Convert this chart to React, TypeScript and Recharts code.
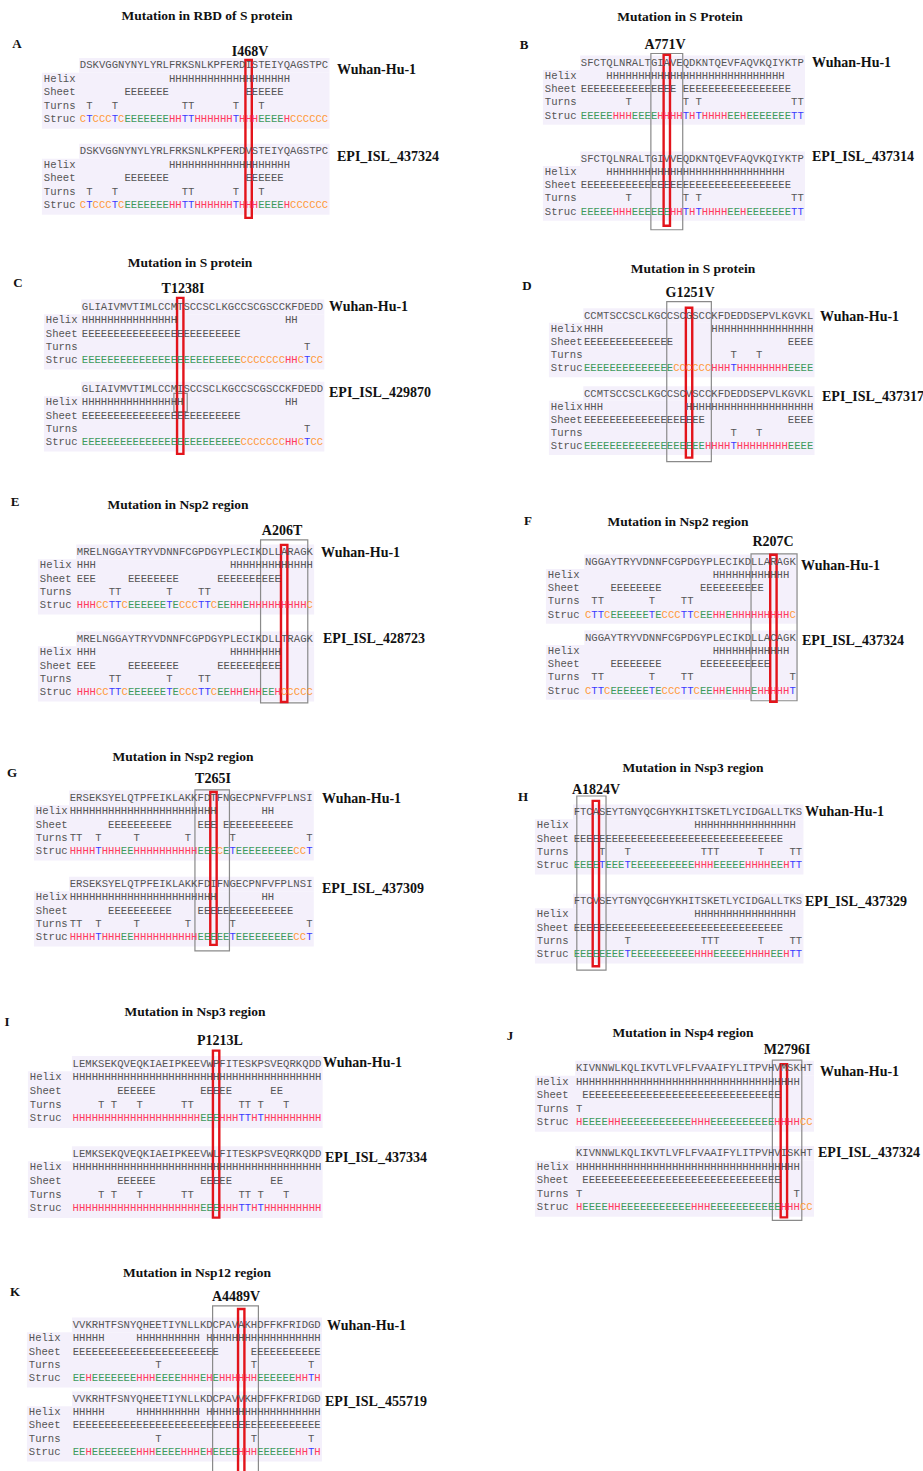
import React from 'react'
import { ScatterChart, Scatter, XAxis, YAxis, ReferenceArea } from 'recharts'

type Run = [number, string]
const rle = (runs: Run[]) => runs.map(([n, c]) => c.repeat(n)).join('')

const ROW_LABELS = ['Helix', 'Sheet', 'Turns', 'Struc']
const STRAIN_WT = 'Wuhan-Hu-1'

// A — RBD of S protein
const A_SEQ = ['DSKVGGNYNYLYRLFRKSNLKPFERDISTEIYQAGSTPC', 'DSKVGGNYNYLYRLFRKSNLKPFERDVSTEIYQAGSTPC']
const A_HELIX: Run[] = [[14, ' '], [19, 'H']]
const A_SHEET: Run[] = [[7, ' '], [7, 'E'], [12, ' '], [6, 'E']]
const A_TURNS: Run[] = [[1, ' '], [1, 'T'], [3, ' '], [1, 'T'], [10, ' '], [2, 'T'], [6, ' '], [1, 'T'], [3, ' '], [1, 'T']]
const A_STRUC: Run[] = [[1, 'C'], [1, 'T'], [3, 'C'], [1, 'T'], [1, 'C'], [7, 'E'], [2, 'H'], [2, 'T'], [6, 'H'], [1, 'T'], [3, 'H'], [4, 'E'], [1, 'H'], [6, 'C']]

// B — S protein A771V
const B_SEQ = ['SFCTQLNRALTGIAVEQDKNTQEVFAQVKQIYKTP', 'SFCTQLNRALTGIVVEQDKNTQEVFAQVKQIYKTP']
const B_HELIX: Run[] = [[4, ' '], [28, 'H']]
const B_SHEET_WT: Run[] = [[15, 'E'], [1, ' '], [17, 'E']]
const B_SHEET_MUT: Run[] = [[33, 'E']]
const B_TURNS: Run[] = [[7, ' '], [1, 'T'], [8, ' '], [1, 'T'], [1, ' '], [1, 'T'], [14, ' '], [2, 'T']]
const B_STRUC_WT: Run[] = [[5, 'E'], [3, 'H'], [4, 'E'], [4, 'H'], [1, 'T'], [1, 'H'], [1, 'T'], [4, 'H'], [2, 'E'], [1, 'H'], [7, 'E'], [2, 'T']]
const B_STRUC_MUT: Run[] = [[5, 'E'], [3, 'H'], [6, 'E'], [2, 'H'], [1, 'T'], [1, 'H'], [1, 'T'], [4, 'H'], [2, 'E'], [1, 'H'], [7, 'E'], [2, 'T']]

// C — S protein T1238I
const C_SEQ = ['GLIAIVMVTIMLCCMTSCCSCLKGCCSCGSCCKFDEDD', 'GLIAIVMVTIMLCCMISCCSCLKGCCSCGSCCKFDEDD']
const C_HELIX_WT: Run[] = [[15, 'H'], [17, ' '], [2, 'H']]
const C_HELIX_MUT: Run[] = [[16, 'H'], [16, ' '], [2, 'H']]
const C_SHEET: Run[] = [[25, 'E']]
const C_TURNS: Run[] = [[35, ' '], [1, 'T']]
const C_STRUC: Run[] = [[25, 'E'], [7, 'C'], [2, 'H'], [1, 'C'], [1, 'T'], [2, 'C']]

// D — S protein G1251V
const D_SEQ = ['CCMTSCCSCLKGCCSCGSCCKFDEDDSEPVLKGVKL', 'CCMTSCCSCLKGCCSCVSCCKFDEDDSEPVLKGVKL']
const D_HELIX_WT: Run[] = [[3, 'H'], [17, ' '], [16, 'H']]
const D_HELIX_MUT: Run[] = [[3, 'H'], [13, ' '], [20, 'H']]
const D_SHEET_WT: Run[] = [[14, 'E'], [18, ' '], [4, 'E']]
const D_SHEET_MUT: Run[] = [[19, 'E'], [13, ' '], [4, 'E']]
const D_TURNS: Run[] = [[23, ' '], [1, 'T'], [3, ' '], [1, 'T']]
const D_STRUC_WT: Run[] = [[14, 'E'], [6, 'C'], [3, 'H'], [1, 'T'], [8, 'H'], [4, 'E']]
const D_STRUC_MUT: Run[] = [[19, 'E'], [4, 'H'], [1, 'T'], [8, 'H'], [4, 'E']]

// E — Nsp2 A206T
const E_SEQ = ['MRELNGGAYTRYVDNNFCGPDGYPLECIKDLLARAGK', 'MRELNGGAYTRYVDNNFCGPDGYPLECIKDLLTRAGK']
const E_HELIX_WT: Run[] = [[3, 'H'], [21, ' '], [13, 'H']]
const E_HELIX_MUT: Run[] = [[3, 'H'], [21, ' '], [8, 'H']]
const E_SHEET: Run[] = [[3, 'E'], [5, ' '], [8, 'E'], [6, ' '], [10, 'E']]
const E_TURNS: Run[] = [[5, ' '], [2, 'T'], [7, ' '], [1, 'T'], [4, ' '], [2, 'T']]
const E_STRUC_WT: Run[] = [[3, 'H'], [2, 'C'], [2, 'T'], [1, 'C'], [6, 'E'], [1, 'T'], [1, 'E'], [3, 'C'], [2, 'T'], [1, 'C'], [2, 'E'], [2, 'H'], [1, 'E'], [9, 'H'], [1, 'C']]
const E_STRUC_MUT: Run[] = [[3, 'H'], [2, 'C'], [2, 'T'], [1, 'C'], [6, 'E'], [1, 'T'], [1, 'E'], [3, 'C'], [2, 'T'], [1, 'C'], [2, 'E'], [2, 'H'], [1, 'E'], [2, 'H'], [2, 'E'], [1, 'H'], [5, 'C']]

// F — Nsp2 R207C
const F_SEQ = ['NGGAYTRYVDNNFCGPDGYPLECIKDLLARAGK', 'NGGAYTRYVDNNFCGPDGYPLECIKDLLACAGK']
const F_HELIX: Run[] = [[20, ' '], [12, 'H']]
const F_SHEET_WT: Run[] = [[4, ' '], [8, 'E'], [6, ' '], [10, 'E']]
const F_SHEET_MUT: Run[] = [[4, ' '], [8, 'E'], [6, ' '], [11, 'E']]
const F_TURNS_WT: Run[] = [[1, ' '], [2, 'T'], [7, ' '], [1, 'T'], [4, ' '], [2, 'T']]
const F_TURNS_MUT: Run[] = [[1, ' '], [2, 'T'], [7, ' '], [1, 'T'], [4, ' '], [2, 'T'], [15, ' '], [1, 'T']]
const F_STRUC_WT: Run[] = [[1, 'C'], [2, 'T'], [1, 'C'], [6, 'E'], [1, 'T'], [1, 'E'], [3, 'C'], [2, 'T'], [1, 'C'], [2, 'E'], [2, 'H'], [1, 'E'], [9, 'H'], [1, 'C']]
const F_STRUC_MUT: Run[] = [[1, 'C'], [2, 'T'], [1, 'C'], [6, 'E'], [1, 'T'], [1, 'E'], [3, 'C'], [2, 'T'], [1, 'C'], [2, 'E'], [2, 'H'], [1, 'E'], [3, 'H'], [1, 'E'], [5, 'H'], [1, 'T']]

// G — Nsp2 T265I
const G_SEQ = ['ERSEKSYELQTPFEIKLAKKFDTFNGECPNFVFPLNSI', 'ERSEKSYELQTPFEIKLAKKFDIFNGECPNFVFPLNSI']
const G_HELIX: Run[] = [[23, 'H'], [7, ' '], [2, 'H']]
const G_SHEET_WT: Run[] = [[6, ' '], [10, 'E'], [4, ' '], [3, 'E'], [1, ' '], [11, 'E']]
const G_SHEET_MUT: Run[] = [[6, ' '], [10, 'E'], [4, ' '], [15, 'E']]
const G_TURNS: Run[] = [[2, 'T'], [2, ' '], [1, 'T'], [5, ' '], [1, 'T'], [7, ' '], [1, 'T'], [6, ' '], [1, 'T'], [11, ' '], [1, 'T']]
const G_STRUC_WT: Run[] = [[4, 'H'], [1, 'T'], [3, 'H'], [2, 'E'], [10, 'H'], [3, 'E'], [1, 'C'], [1, 'E'], [1, 'T'], [9, 'E'], [2, 'C'], [1, 'T']]
const G_STRUC_MUT: Run[] = [[4, 'H'], [1, 'T'], [3, 'H'], [2, 'E'], [10, 'H'], [5, 'E'], [1, 'T'], [9, 'E'], [2, 'C'], [1, 'T']]

// H — Nsp3 A1824V
const H_SEQ = ['FTCASEYTGNYQCGHYKHITSKETLYCIDGALLTKS', 'FTCVSEYTGNYQCGHYKHITSKETLYCIDGALLTKS']
const H_HELIX: Run[] = [[19, ' '], [16, 'H']]
const H_SHEET: Run[] = [[33, 'E']]
const H_TURNS_WT: Run[] = [[4, ' '], [1, 'T'], [3, ' '], [1, 'T'], [11, ' '], [3, 'T'], [6, ' '], [1, 'T'], [4, ' '], [2, 'T']]
const H_TURNS_MUT: Run[] = [[8, ' '], [1, 'T'], [11, ' '], [3, 'T'], [6, ' '], [1, 'T'], [4, ' '], [2, 'T']]
const H_STRUC_WT: Run[] = [[4, 'E'], [1, 'T'], [3, 'E'], [1, 'T'], [10, 'E'], [3, 'H'], [5, 'E'], [4, 'H'], [2, 'E'], [1, 'H'], [2, 'T']]
const H_STRUC_MUT: Run[] = [[8, 'E'], [1, 'T'], [10, 'E'], [3, 'H'], [5, 'E'], [4, 'H'], [2, 'E'], [1, 'H'], [2, 'T']]

// I — Nsp3 P1213L
const I_SEQ = ['LEMKSEKQVEQKIAEIPKEEVWPFITESKPSVEQRKQDD', 'LEMKSEKQVEQKIAEIPKEEVWLFITESKPSVEQRKQDD']
const I_HELIX: Run[] = [[39, 'H']]
const I_SHEET: Run[] = [[7, ' '], [6, 'E'], [7, ' '], [5, 'E'], [6, ' '], [2, 'E']]
const I_TURNS: Run[] = [[4, ' '], [1, 'T'], [1, ' '], [1, 'T'], [3, ' '], [1, 'T'], [6, ' '], [2, 'T'], [7, ' '], [2, 'T'], [1, ' '], [1, 'T'], [3, ' '], [1, 'T']]
const I_STRUC: Run[] = [[20, 'H'], [3, 'E'], [3, 'H'], [2, 'T'], [1, 'H'], [1, 'T'], [9, 'H']]

// J — Nsp4 M2796I
const J_SEQ = ['KIVNNWLKQLIKVTLVFLFVAAIFYLITPVHVMSKHT', 'KIVNNWLKQLIKVTLVFLFVAAIFYLITPVHVISKHT']
const J_HELIX: Run[] = [[35, 'H']]
const J_SHEET: Run[] = [[1, ' '], [31, 'E']]
const J_TURNS_WT: Run[] = [[1, 'T']]
const J_TURNS_MUT: Run[] = [[1, 'T'], [33, ' '], [1, 'T']]
const J_STRUC_WT: Run[] = [[1, 'H'], [4, 'E'], [2, 'H'], [11, 'E'], [3, 'H'], [10, 'E'], [4, 'H'], [2, 'C']]
const J_STRUC_MUT: Run[] = [[1, 'H'], [4, 'E'], [2, 'H'], [11, 'E'], [3, 'H'], [11, 'E'], [3, 'H'], [2, 'C']]

// K — Nsp12 A4489V
const K_SEQ = ['VVKRHTFSNYQHEETIYNLLKDCPAVAKHDFFKFRIDGD', 'VVKRHTFSNYQHEETIYNLLKDCPAVVKHDFFKFRIDGD']
const K_HELIX: Run[] = [[5, 'H'], [5, ' '], [10, 'H'], [1, ' '], [18, 'H']]
const K_SHEET_WT: Run[] = [[23, 'E'], [5, ' '], [11, 'E']]
const K_SHEET_MUT: Run[] = [[39, 'E']]
const K_TURNS: Run[] = [[13, ' '], [1, 'T'], [14, ' '], [1, 'T'], [8, ' '], [1, 'T']]
const K_STRUC_WT: Run[] = [[2, 'E'], [1, 'H'], [7, 'E'], [3, 'H'], [4, 'E'], [3, 'H'], [1, 'E'], [1, 'H'], [1, 'E'], [6, 'H'], [6, 'E'], [2, 'H'], [1, 'T'], [1, 'H']]
const K_STRUC_MUT: Run[] = [[2, 'E'], [1, 'H'], [7, 'E'], [3, 'H'], [4, 'E'], [3, 'H'], [1, 'E'], [1, 'H'], [4, 'E'], [3, 'H'], [6, 'E'], [2, 'H'], [1, 'T'], [1, 'H']]

interface PanelData {
  id: string
  title: string
  mutation: string
  strain: string
  mutCol: number
  wt: string[]
  mut: string[]
}

const block = (seq: string, rows: Run[][]) => [seq, ...rows.map(rle)]

const PANELS: PanelData[] = [
  { id: 'A', title: 'Mutation in RBD of S protein', mutation: 'I468V', strain: 'EPI_ISL_437324', mutCol: 26,
    wt: block(A_SEQ[0], [A_HELIX, A_SHEET, A_TURNS, A_STRUC]), mut: block(A_SEQ[1], [A_HELIX, A_SHEET, A_TURNS, A_STRUC]) },
  { id: 'B', title: 'Mutation in S Protein', mutation: 'A771V', strain: 'EPI_ISL_437314', mutCol: 13,
    wt: block(B_SEQ[0], [B_HELIX, B_SHEET_WT, B_TURNS, B_STRUC_WT]), mut: block(B_SEQ[1], [B_HELIX, B_SHEET_MUT, B_TURNS, B_STRUC_MUT]) },
  { id: 'C', title: 'Mutation in S protein', mutation: 'T1238I', strain: 'EPI_ISL_429870', mutCol: 15,
    wt: block(C_SEQ[0], [C_HELIX_WT, C_SHEET, C_TURNS, C_STRUC]), mut: block(C_SEQ[1], [C_HELIX_MUT, C_SHEET, C_TURNS, C_STRUC]) },
  { id: 'D', title: 'Mutation in S protein', mutation: 'G1251V', strain: 'EPI_ISL_437317', mutCol: 16,
    wt: block(D_SEQ[0], [D_HELIX_WT, D_SHEET_WT, D_TURNS, D_STRUC_WT]), mut: block(D_SEQ[1], [D_HELIX_MUT, D_SHEET_MUT, D_TURNS, D_STRUC_MUT]) },
  { id: 'E', title: 'Mutation in Nsp2 region', mutation: 'A206T', strain: 'EPI_ISL_428723', mutCol: 32,
    wt: block(E_SEQ[0], [E_HELIX_WT, E_SHEET, E_TURNS, E_STRUC_WT]), mut: block(E_SEQ[1], [E_HELIX_MUT, E_SHEET, E_TURNS, E_STRUC_MUT]) },
  { id: 'F', title: 'Mutation in Nsp2 region', mutation: 'R207C', strain: 'EPI_ISL_437324', mutCol: 29,
    wt: block(F_SEQ[0], [F_HELIX, F_SHEET_WT, F_TURNS_WT, F_STRUC_WT]), mut: block(F_SEQ[1], [F_HELIX, F_SHEET_MUT, F_TURNS_MUT, F_STRUC_MUT]) },
  { id: 'G', title: 'Mutation in Nsp2 region', mutation: 'T265I', strain: 'EPI_ISL_437309', mutCol: 22,
    wt: block(G_SEQ[0], [G_HELIX, G_SHEET_WT, G_TURNS, G_STRUC_WT]), mut: block(G_SEQ[1], [G_HELIX, G_SHEET_MUT, G_TURNS, G_STRUC_MUT]) },
  { id: 'H', title: 'Mutation in Nsp3 region', mutation: 'A1824V', strain: 'EPI_ISL_437329', mutCol: 3,
    wt: block(H_SEQ[0], [H_HELIX, H_SHEET, H_TURNS_WT, H_STRUC_WT]), mut: block(H_SEQ[1], [H_HELIX, H_SHEET, H_TURNS_MUT, H_STRUC_MUT]) },
  { id: 'I', title: 'Mutation in Nsp3 region', mutation: 'P1213L', strain: 'EPI_ISL_437334', mutCol: 22,
    wt: block(I_SEQ[0], [I_HELIX, I_SHEET, I_TURNS, I_STRUC]), mut: block(I_SEQ[1], [I_HELIX, I_SHEET, I_TURNS, I_STRUC]) },
  { id: 'J', title: 'Mutation in Nsp4 region', mutation: 'M2796I', strain: 'EPI_ISL_437324', mutCol: 32,
    wt: block(J_SEQ[0], [J_HELIX, J_SHEET, J_TURNS_WT, J_STRUC_WT]), mut: block(J_SEQ[1], [J_HELIX, J_SHEET, J_TURNS_MUT, J_STRUC_MUT]) },
  { id: 'K', title: 'Mutation in Nsp12 region', mutation: 'A4489V', strain: 'EPI_ISL_455719', mutCol: 26,
    wt: block(K_SEQ[0], [K_HELIX, K_SHEET_WT, K_TURNS, K_STRUC_WT]), mut: block(K_SEQ[1], [K_HELIX, K_SHEET_MUT, K_TURNS, K_STRUC_MUT]) },
]

// page placement: x0/y0 = left edge / centre of the first residue row, cw/rh = column / row pitch
interface Layout {
  x0: number; y0: number; cw: number; rh: number; gap: number; lab: number
  red: [number, number]
  grey?: [number, number, number, number]
  title: [number, number]; letter: [number, number]; mut: [number, number]
  s1: [number, number]; s2: [number, number]
}

const LAYOUT: Record<string, Layout> = {
  A: { x0: 80, y0: 65, cw: 6.37, rh: 13.5, gap: 6.37, lab: 5.65, red: [-0.4, 11.3],
    title: [207, 16], letter: [17, 44], mut: [250, 52], s1: [337, 70], s2: [337, 157] },
  B: { x0: 581, y0: 63, cw: 6.37, rh: 13.2, gap: 7.27, lab: 5.65, red: [-0.6, 12.35], grey: [11, 16, -0.7, 12.65],
    title: [680, 17], letter: [524, 45], mut: [665, 45], s1: [812, 63], s2: [812, 157] },
  C: { x0: 82, y0: 307, cw: 6.35, rh: 13.3, gap: 6.17, lab: 5.67, red: [-0.68, 11.05], grey: [14.5, 16.6, 6.5, 7.87],
    title: [190, 263], letter: [18, 283], mut: [183, 289], s1: [329, 307], s2: [329, 393] },
  D: { x0: 584, y0: 316, cw: 6.37, rh: 13.1, gap: 5.95, lab: 5.2, red: [-0.6, 10.84], grey: [13, 20, -1.07, 11.15],
    title: [693, 269], letter: [527, 286], mut: [690, 293], s1: [820, 317], s2: [822, 397] },
  E: { x0: 77, y0: 552, cw: 6.38, rh: 13.3, gap: 6.54, lab: 5.8, red: [-0.53, 11.28], grey: [28.8, 36.2, -0.9, 11.35],
    title: [178, 505], letter: [15, 502], mut: [282, 531], s1: [321, 553], s2: [323, 639] },
  F: { x0: 585, y0: 562, cw: 6.39, rh: 13.2, gap: 5.76, lab: 5.8, red: [-0.53, 10.6], grey: [26, 33.2, -0.6, 10.53],
    title: [678, 522], letter: [528, 521], mut: [773, 542], s1: [801, 566], s2: [802, 641] },
  G: { x0: 70, y0: 798, cw: 6.39, rh: 13.3, gap: 6.47, lab: 5.3, red: [-0.45, 11.05], grey: [19.6, 25, -0.6, 11.5],
    title: [183, 757], letter: [12, 773], mut: [213, 779], s1: [322, 799], s2: [322, 889] },
  H: { x0: 574, y0: 812, cw: 6.35, rh: 13.3, gap: 6.7, lab: 5.8, red: [-0.83, 11.6], grey: [0.5, 5.1, -1.2, 11.9],
    title: [693, 768], letter: [523, 797], mut: [596, 790], s1: [805, 812], s2: [805, 902] },
  I: { x0: 73, y0: 1064, cw: 6.38, rh: 13.7, gap: 6.57, lab: 6.7, red: [-0.95, 11.24],
    title: [195, 1012], letter: [7, 1022], mut: [220, 1041], s1: [323, 1063], s2: [325, 1158] },
  J: { x0: 576, y0: 1068, cw: 6.4, rh: 13.5, gap: 6.3, lab: 6.1, red: [-0.3, 11.04], grey: [30.7, 35.3, -0.6, 11.26],
    title: [683, 1033], letter: [510, 1036], mut: [787, 1050], s1: [820, 1072], s2: [818, 1153] },
  K: { x0: 73, y0: 1325, cw: 6.36, rh: 13.3, gap: 5.56, lab: 6.9, red: [-1.2, 11.6], grey: [22, 29.2, -1.43, 11.6],
    title: [197, 1273], letter: [15, 1292], mut: [236, 1297], s1: [327, 1326], s2: [325, 1402] },
}

const STRUC_COLORS: Record<string, string> = { H: '#ff3a5e', E: '#3d9a5c', T: '#3a3aff', C: '#ff9a3a' }
const TEXT_GREY = '#555'
const BG = '#f4f0fb'
const MONO = '"Liberation Mono", "DejaVu Sans Mono", monospace'
const SERIF = '"Liberation Serif", "Times New Roman", serif'

const Glyph = (props: any) => {
  const { cx, cy, payload } = props
  if (cx == null || cy == null) return <g />
  return (
    <text x={cx} y={cy} textAnchor={payload.anchor} dominantBaseline="central"
      fontFamily={MONO} fontSize={10.6} fill={payload.color}>
      {payload.ch}
    </text>
  )
}

function Panel({ p, L }: { p: PanelData; L: Layout }) {
  const n = p.wt[0].length
  const xMin = -L.lab - 0.6
  const xMax = n + 0.8
  const yMin = -1.8
  const yMax = 13
  const width = (xMax - xMin) * L.cw
  const height = (yMax - yMin) * L.rh

  const chars: any[] = []
  const labels: any[] = []
  ;[p.wt, p.mut].forEach((rows, b) => {
    const off = b * L.gap
    rows.forEach((row, r) => {
      Array.from(row).forEach((ch, i) => {
        if (ch === ' ') return
        chars.push({ x: i + 0.5, y: off + r, ch, anchor: 'middle', color: r === 4 ? STRUC_COLORS[ch] ?? TEXT_GREY : TEXT_GREY })
      })
      if (r > 0) labels.push({ x: -L.lab, y: off + r, ch: ROW_LABELS[r - 1], anchor: 'start', color: TEXT_GREY })
    })
  })

  return (
    <div style={{ position: 'absolute', left: L.x0 + xMin * L.cw, top: L.y0 + yMin * L.rh }}>
      <ScatterChart width={width} height={height} margin={{ top: 0, right: 0, bottom: 0, left: 0 }}>
        <XAxis type="number" dataKey="x" domain={[xMin, xMax]} allowDataOverflow hide />
        <YAxis type="number" dataKey="y" domain={[yMin, yMax]} allowDataOverflow reversed hide />
        {[0, L.gap].map((off) => (
          <React.Fragment key={`bg${off}`}>
            <ReferenceArea x1={-0.1} x2={n + 0.2} y1={off - 0.55} y2={off + 0.55} fill={BG} fillOpacity={1} stroke="none" />
            <ReferenceArea x1={-L.lab - 0.3} x2={n + 0.2} y1={off + 0.55} y2={off + 4.7} fill={BG} fillOpacity={1} stroke="none" />
          </React.Fragment>
        ))}
        <Scatter data={labels} shape={Glyph} isAnimationActive={false} />
        <Scatter data={chars} shape={Glyph} isAnimationActive={false} />
        {L.grey && (
          <ReferenceArea x1={L.grey[0]} x2={L.grey[1]} y1={L.grey[2]} y2={L.grey[3]}
            fill="none" stroke="#8a8a8a" strokeWidth={1.2} />
        )}
        <ReferenceArea x1={p.mutCol} x2={p.mutCol + 1} y1={L.red[0]} y2={L.red[1]}
          fill="none" stroke="#e3141b" strokeWidth={2.4} />
      </ScatterChart>
    </div>
  )
}

const centred = (x: number, y: number, size: number, text: string) => (
  <div style={{ position: 'absolute', left: x, top: y, transform: 'translate(-50%, -50%)', fontFamily: SERIF,
    fontWeight: 700, fontSize: size, whiteSpace: 'nowrap', color: '#111' }}>{text}</div>
)

const leftAligned = (x: number, y: number, size: number, text: string) => (
  <div style={{ position: 'absolute', left: x, top: y, transform: 'translateY(-50%)', fontFamily: SERIF,
    fontWeight: 700, fontSize: size, whiteSpace: 'nowrap', color: '#111' }}>{text}</div>
)

export default function App() {
  return (
    <div style={{ position: 'absolute', left: 0, top: 0, width: 923, height: 1471, background: '#fff', overflow: 'hidden' }}>
      {PANELS.map((p) => {
        const L = LAYOUT[p.id]
        return (
          <React.Fragment key={p.id}>
            <Panel p={p} L={L} />
            {centred(L.title[0], L.title[1], 13.5, p.title)}
            {centred(L.letter[0], L.letter[1], 13, p.id)}
            {centred(L.mut[0], L.mut[1], 14, p.mutation)}
            {leftAligned(L.s1[0], L.s1[1], 14, STRAIN_WT)}
            {leftAligned(L.s2[0], L.s2[1], 14, p.strain)}
          </React.Fragment>
        )
      })}
    </div>
  )
}
